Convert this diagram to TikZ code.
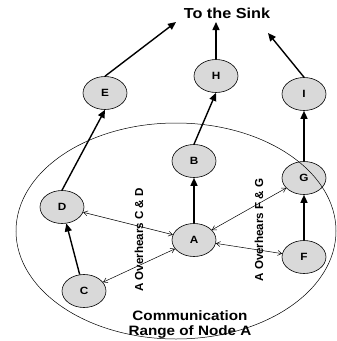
\documentclass[tikz,border=0pt]{standalone}
\usepackage{fontspec}
\setmainfont{Liberation Sans}
\newfontfamily\widefont[FakeStretch=1.12]{Liberation Sans}
\usetikzlibrary{arrows.meta,shapes.geometric}
\begin{document}
\begin{tikzpicture}[x=1pt,y=-1pt,
  sensor/.style={ellipse,draw=black,line width=0.6pt,fill=black!15,minimum width=44pt,minimum height=33pt,inner sep=0pt,font=\widefont\fontsize{10.5}{12}\selectfont\bfseries},
  hop/.style={line width=1.4pt,-{Triangle[length=8pt,width=7pt]}},
  hear/.style={line width=0.5pt,{Straight Barb[length=4pt,width=5pt]}-{Straight Barb[length=4pt,width=5pt]}},
  lbl/.style={font=\fontsize{11.6}{13}\selectfont\bfseries,inner sep=0pt}]
\useasboundingbox (0,0) rectangle (337,341);
\node[sensor] (E) at (105,93) {E};
\node[sensor] (H) at (216,76) {H};
\node[sensor] (I) at (304,94) {I};
\node[sensor] (B) at (194,161) {B};
\node[sensor] (G) at (304,178) {G};
\node[sensor] (D) at (62,207) {D};
\node[sensor] (A) at (194,240) {A};
\node[sensor] (F) at (304,257) {F};
\node[sensor] (C) at (84,291) {C};
\node[font=\widefont\fontsize{14.5}{15}\selectfont\bfseries,inner sep=0pt] (sink) at (227,13) {To the Sink};
\coordinate (sE) at (176,22);
\coordinate (sH) at (216,22);
\coordinate (sI) at (268,33);
\draw[hop] (E.north) -- (sE);
\draw[hop] (H.north) -- (sH);
\draw[hop] (I.north) -- (sI);
\draw[hop] (D.north) -- (E.south);
\draw[hop] (B.north) -- (H.south);
\draw[hop] (A) -- (B);
\draw[hop] (G) -- (I);
\draw[hop] (F) -- (G);
\draw[hop] (C) -- (D);
\draw[hear] (A) -- (D);
\draw[hear] (A) -- (C);
\draw[hear] (A) -- (G);
\draw[hear] (A) -- (F);
\node[lbl,rotate=90] (l1) at (139,240) {A Overhears C \& D};
\node[lbl,rotate=90] (l2) at (259,230) {A Overhears F \& G};
\node[align=center,inner sep=0pt,font=\widefont\fontsize{13.6}{15}\selectfont\bfseries] (range) at (190,325) {Communication\\Range of Node A};
\draw[line width=0.5pt] (176,231) ellipse [x radius=160, y radius=108];
\end{tikzpicture}
\end{document}
